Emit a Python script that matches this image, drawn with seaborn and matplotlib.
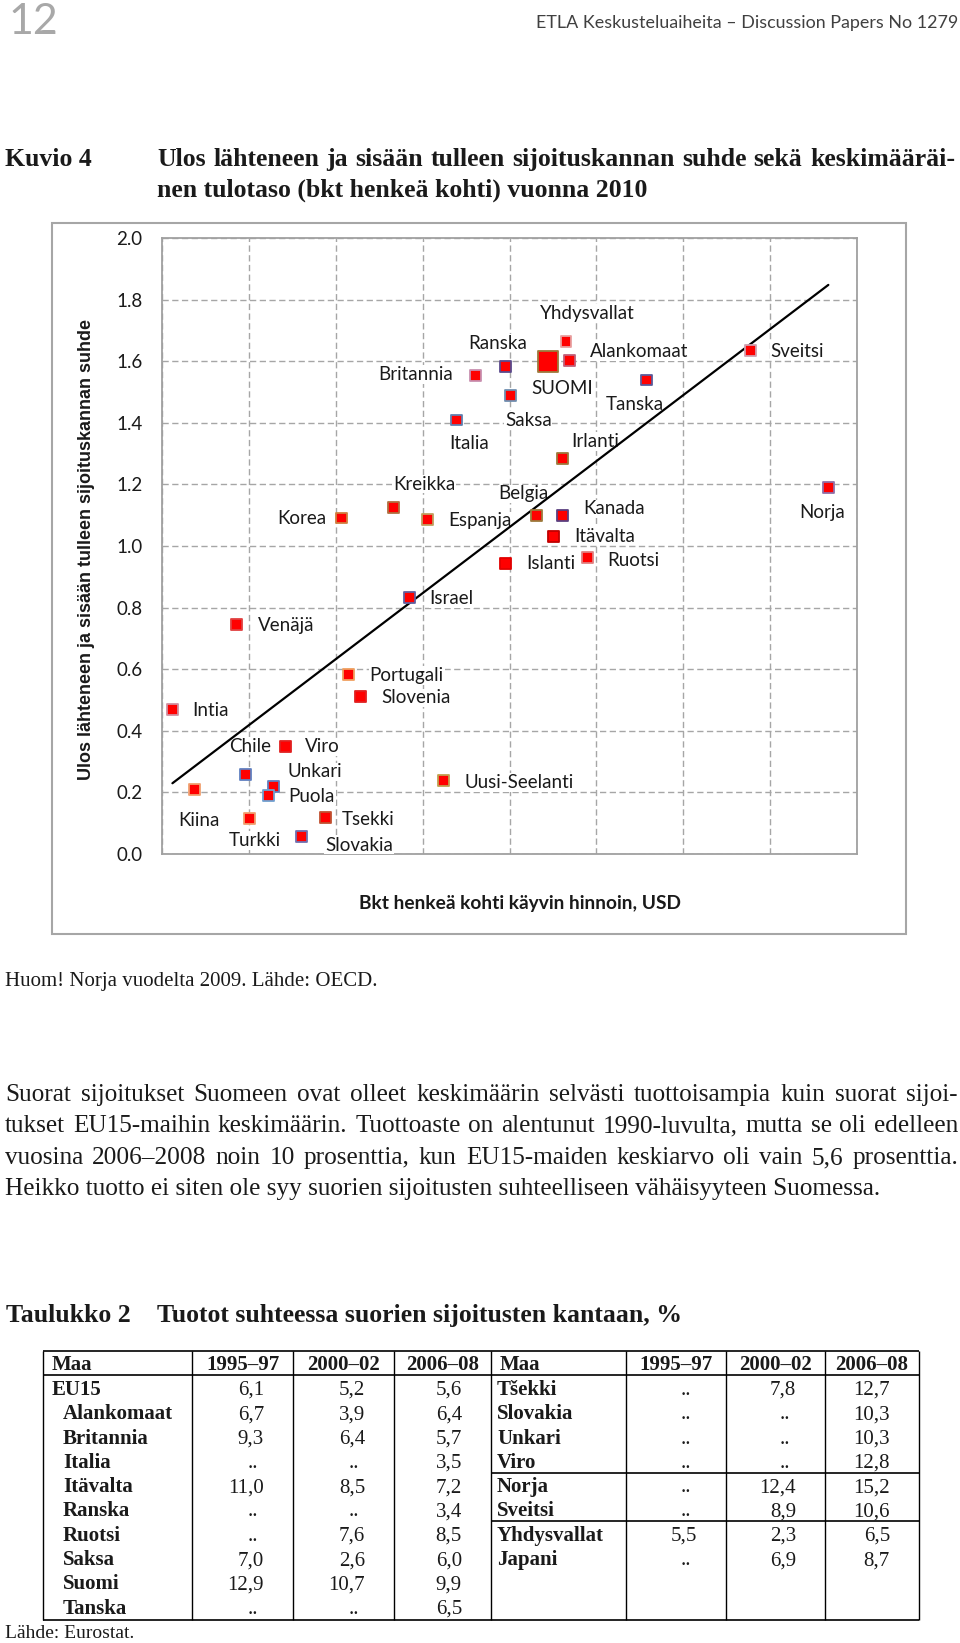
import numpy as np
import pandas as pd
import seaborn as sns
import matplotlib.pyplot as plt
from matplotlib.patches import Rectangle

W, H = 960, 1643  # page size in pixels (dpi 100)

# --- Kuvio 4: bkt henkeä kohti (USD) ja ulos/sisään sijoituskannan suhde ---
countries = ["Yhdysvallat", "SUOMI", "Alankomaat", "Ranska", "Britannia", "Saksa",
             "Tanska", "Sveitsi", "Italia", "Irlanti", "Norja", "Belgia", "Kanada",
             "Espanja", "Itävalta", "Islanti", "Ruotsi", "Korea", "Kreikka", "Israel",
             "Venäjä", "Portugali", "Slovenia", "Intia", "Viro", "Chile", "Unkari",
             "Puola", "Kiina", "Uusi-Seelanti", "Turkki", "Tsekki", "Slovakia"]
gdp_usd = [46500, 44400, 46900, 39500, 36100, 40100, 55800, 67700, 33900, 46100,
           76700, 43100, 46100, 30600, 45100, 39500, 49000, 20700, 26600, 28500,
           8600, 21500, 22900, 1200, 14200, 9600, 12800, 12300, 3700, 32400,
           10100, 18800, 16100]
stock_ratio = [1.664, 1.599, 1.603, 1.584, 1.554, 1.490, 1.539, 1.636, 1.409, 1.284,
               1.191, 1.098, 1.098, 1.085, 1.032, 0.944, 0.962, 1.091, 1.126, 0.832,
               0.746, 0.583, 0.510, 0.470, 0.348, 0.259, 0.218, 0.191, 0.210, 0.238,
               0.116, 0.118, 0.058]
# linear trend: suhde = a + b * bkt
trend_intercept = 0.204
trend_slope = 2.143e-5

# --- Taulukko 2: tuotot suhteessa suorien sijoitusten kantaan, % ---
na = np.nan
periods = ["1995–97", "2000–02", "2006–08"]
left_names = ["EU15", "Alankomaat", "Britannia", "Italia", "Itävalta", "Ranska",
              "Ruotsi", "Saksa", "Suomi", "Tanska"]
left_9597 = [6.1, 6.7, 9.3, na, 11.0, na, na, 7.0, 12.9, na]
left_0002 = [5.2, 3.9, 6.4, na, 8.5, na, 7.6, 2.6, 10.7, na]
left_0608 = [5.6, 6.4, 5.7, 3.5, 7.2, 3.4, 8.5, 6.0, 9.9, 6.5]
right_names = ["Tšekki", "Slovakia", "Unkari", "Viro", "Norja", "Sveitsi",
               "Yhdysvallat", "Japani"]
right_9597 = [na, na, na, na, na, na, 5.5, na]
right_0002 = [7.8, na, na, na, 12.4, 8.9, 2.3, 6.9]
right_0608 = [12.7, 10.3, 10.3, 12.8, 15.2, 10.6, 6.5, 8.7]

# label offsets from the marker, in pixels (dx, dy up)
label_offsets = {
    "Yhdysvallat": (21, 28), "SUOMI": (14, -27), "Alankomaat": (70, 9), "Ranska": (-7, 23),
    "Britannia": (-60, 1), "Saksa": (18, -25), "Tanska": (-12, -25), "Sveitsi": (47, -1),
    "Italia": (13, -23), "Irlanti": (33, 17), "Norja": (-6, -25), "Belgia": (-13, 22),
    "Kanada": (52, 7), "Espanja": (52, -1), "Itävalta": (51, 0), "Islanti": (46, 0),
    "Ruotsi": (46, -3), "Korea": (-40, -1), "Kreikka": (31, 23), "Israel": (42, -1),
    "Venäjä": (49, -1), "Portugali": (58, -1), "Slovenia": (55, -1), "Intia": (38, -1),
    "Viro": (37, 0), "Chile": (5, 28), "Unkari": (42, 15), "Puola": (43, -1),
    "Kiina": (5, -31), "Uusi-Seelanti": (76, -2), "Turkki": (5, -22), "Tsekki": (43, -2),
    "Slovakia": (57, -9),
}
edge_colors = {
    "Yhdysvallat": "#e8a0a0", "SUOMI": "#9c7a3c", "Alankomaat": "#c0607a", "Ranska": "#5b4a8c",
    "Britannia": "#c890b0", "Saksa": "#6f8fb0", "Tanska": "#5a5a9a", "Sveitsi": "#d0a0b0",
    "Italia": "#6080b0", "Irlanti": "#9c7a3c", "Norja": "#9070a8", "Belgia": "#9c7a3c",
    "Kanada": "#5a4080", "Espanja": "#c0a060", "Itävalta": "#c00000", "Islanti": "#e00000",
    "Ruotsi": "#e08080", "Korea": "#d08040", "Kreikka": "#b07040", "Israel": "#6060a0",
    "Venäjä": "#e04040", "Portugali": "#f0a060", "Slovenia": "#e02020", "Intia": "#d090a0",
    "Viro": "#e02020", "Chile": "#6080c0", "Unkari": "#6080c0", "Puola": "#70a0d0",
    "Kiina": "#f0a070", "Uusi-Seelanti": "#c0a050", "Turkki": "#f0a070", "Tsekki": "#c05030",
    "Slovakia": "#7070b0",
}

sns.set_style("white")
plt.rcParams["font.family"] = ["Lato", "DejaVu Sans"]
SERIF = ["Liberation Serif", "DejaVu Serif"]
INK = "#1a1a1a"

fig = plt.figure(figsize=(W / 100, H / 100), dpi=100)
page = fig.add_axes([0, 0, 1, 1])
page.set_xlim(0, W)
page.set_ylim(H, 0)
page.axis("off")


def justify(line, x0, x1, y, **kw):
    # spread the words of one line between x0 and x1
    words = line.split()
    texts = [page.text(x0, y, w, va="baseline", **kw) for w in words]
    r = fig.canvas.get_renderer()
    widths = [t.get_window_extent(r).width for t in texts]
    gap = (x1 - x0 - sum(widths)) / (len(words) - 1)
    x = x0
    for t, w in zip(texts, widths):
        t.set_x(x)
        x += w + gap


# page header
page.text(8, 34, "12", fontsize=31, color="#a8a8a8", va="baseline")
page.text(958, 28, "ETLA Keskusteluaiheita – Discussion Papers No 1279", fontsize=12.9,
          color="#404040", ha="right", va="baseline")

# figure title
title_kw = dict(family=SERIF, weight="bold", fontsize=18.5, color=INK)
page.text(5, 166, "Kuvio 4", va="baseline", **title_kw)
justify("Ulos lähteneen ja sisään tulleen sijoituskannan suhde sekä keskimääräi-",
        157, 955, 166, **title_kw)
page.text(157, 197, "nen tulotaso (bkt henkeä kohti) vuonna 2010", va="baseline", **title_kw)

# chart frame
page.add_patch(Rectangle((52, 223), 854, 711, fill=False, ec="#a6a6a6", lw=1.5))
page.text(87, 550, "Ulos lähteneen ja sisään tulleen sijoituskannan suhde", rotation=90,
          family=["Liberation Sans", "DejaVu Sans"], weight="bold", fontsize=13,
          ha="center", va="center", color=INK)
page.text(520, 903, "Bkt henkeä kohti käyvin hinnoin, USD", weight="bold", fontsize=13.8,
          ha="center", va="center", color=INK)

# scatter chart
ax = fig.add_axes([162 / W, 1 - 854 / H, 695 / W, 616 / H])
df = pd.DataFrame({"maa": countries, "bkt": gdp_usd, "suhde": stock_ratio})
df["koko"] = np.where(df["maa"] == "SUOMI", "iso", "pieni")

sns.scatterplot(data=df, x="bkt", y="suhde", size="koko", sizes={"pieni": 62, "iso": 210},
                marker="s", color="#ff0000", legend=False, zorder=5, ax=ax)
pts = ax.collections[-1]
pts.set_edgecolors([edge_colors[m] for m in df["maa"]])
pts.set_linewidths(1.3)

trend_x = np.array([df["bkt"].min(), df["bkt"].max()])
sns.lineplot(x=trend_x, y=trend_intercept + trend_slope * trend_x, color="black",
             lw=1.6, zorder=4, ax=ax)

for m, x, y in zip(df["maa"], df["bkt"], df["suhde"]):
    dx, dy = label_offsets[m]
    ax.annotate(m, (x, y), xytext=(dx * 0.72, dy * 0.72), textcoords="offset points",
                ha="center", va="center", fontsize=13.5, color=INK, zorder=3,
                bbox=dict(fc="white", ec="none", pad=0.6))

ax.set_xlim(0, 80000)
ax.set_ylim(0, 2.0)
ax.set_xticks(np.arange(0, 80001, 10000))
ax.set_xticklabels([])
yt = np.arange(0, 2.01, 0.2)
ax.set_yticks(yt)
ax.set_yticklabels([f"{v:.1f}" for v in yt])
ax.tick_params(axis="x", length=0)
ax.tick_params(axis="y", length=5, width=1, color="#a0a0a0", pad=9, labelsize=13.5,
               labelcolor=INK)
ax.grid(True, color="#a6a6a6", lw=1.0, linestyle=(0, (4.5, 2.5)))
ax.set_axisbelow(True)
for sp in ax.spines.values():
    sp.set_color("#a0a0a0")
    sp.set_linewidth(1.3)
ax.set_xlabel("")
ax.set_ylabel("")

# note and body text
page.text(5, 986, "Huom! Norja vuodelta 2009. Lähde: OECD.", family=SERIF, fontsize=15,
          color=INK, va="baseline")
body_kw = dict(family=SERIF, fontsize=18.2, color=INK)
body = ["Suorat sijoitukset Suomeen ovat olleet keskimäärin selvästi tuottoisampia kuin suorat sijoi-",
        "tukset EU15-maihin keskimäärin. Tuottoaste on alentunut 1990-luvulta, mutta se oli edelleen",
        "vuosina 2006–2008 noin 10 prosenttia, kun EU15-maiden keskiarvo oli vain 5,6 prosenttia."]
for i, line in enumerate(body):
    justify(line, 5, 958, 1101 + i * 31.5, **body_kw)
page.text(5, 1195, "Heikko tuotto ei siten ole syy suorien sijoitusten suhteelliseen vähäisyyteen Suomessa.",
          va="baseline", **body_kw)

# table
page.text(6, 1322, "Taulukko 2", va="baseline", **title_kw)
page.text(157, 1322, "Tuotot suhteessa suorien sijoitusten kantaan, %", va="baseline", **title_kw)

col_x = [43, 192, 293, 394, 491, 626, 726, 825, 919]
page.hlines([1351, 1375, 1620], col_x[0], col_x[-1], color="black", lw=1.2)
page.vlines(col_x, 1351, 1620, color="black", lw=1.0)
page.hlines([1473, 1521], col_x[4], col_x[-1], color="black", lw=1.2)

tab_kw = dict(family=SERIF, fontsize=15, color=INK, va="baseline")


def fmt(v):
    return ".." if np.isnan(v) else f"{v:.1f}".replace(".", ",")


for base in (0, 4):
    page.text(col_x[base] + 9, 1370, "Maa", weight="bold", **tab_kw)
    for j, p in enumerate(periods):
        page.text((col_x[base + j + 1] + col_x[base + j + 2]) / 2, 1370, p, weight="bold",
                  ha="center", **tab_kw)

halves = [(0, left_names, [left_9597, left_0002, left_0608]),
          (4, right_names, [right_9597, right_0002, right_0608])]
for base, names, cols in halves:
    for i, name in enumerate(names):
        yb = 1388 + i * 24.3 + 7
        if base == 0:
            nx = 52 if i == 0 else 63
        else:
            nx = 497
        page.text(nx, yb, name, weight="bold", **tab_kw)
        for j, col in enumerate(cols):
            right = col_x[base + j + 2]
            v = col[i]
            if np.isnan(v):
                page.text(right - 40, yb, "..", ha="center", **tab_kw)
            else:
                page.text(right - 29, yb, fmt(v), ha="right", **tab_kw)

page.text(5, 1638, "Lähde: Eurostat.", family=SERIF, fontsize=14, color=INK, va="baseline")

fig.savefig("out.png", dpi=100)
